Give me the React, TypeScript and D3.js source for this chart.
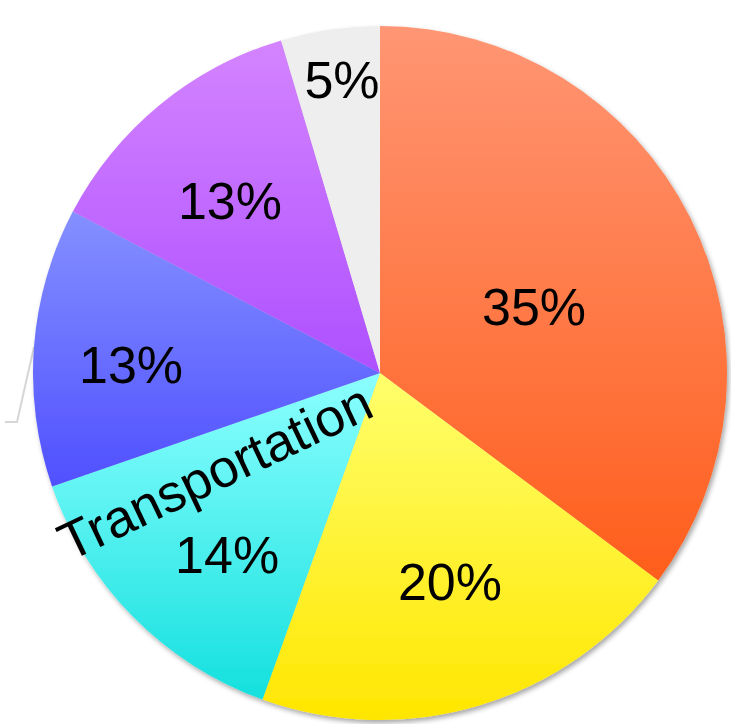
import React from "react";
import * as d3 from "d3";

const categories = ["Energy", "Food", "Transportation", "Housing", "Goods", "Other"];
const values = [35.2, 20.3, 14.2, 13.0, 12.7, 4.6];
const percentLabels = ["35%", "20%", "14%", "13%", "13%", "5%"];
const gradientTop = ["#FF9674", "#FFFF6C", "#8CFFFF", "#8490FF", "#D484FF", "#EEEEEE"];
const gradientBottom = ["#FF5E1C", "#FFE600", "#14E0DE", "#5050FF", "#AE50FF", "#EEEEEE"];

const W = 731;
const H = 724;
const cx = 380;
const cy = 373;
const R = 347;
const DEG = Math.PI / 180;

// label layout (baseline point): fraction of radius and angular offset from slice middle (deg)
const labelRadius = [0.465, 0.684, 0.726, 0.718, 0.62, 0.8];
const labelAngleOffset = [9.3, -0.4, -8.0, -6.7, -4.8, 0.4];

export default function App() {
  React.useEffect(() => {
    document.body.style.margin = "0";
  }, []);

  const pie = d3.pie<number>().value((d) => d).sort(null);
  const arcs = pie(values);
  const arcGen = d3.arc<d3.PieArcDatum<number>>().innerRadius(0).outerRadius(R);

  const labelPos = arcs.map((a, i) => {
    const mid = (a.startAngle + a.endAngle) / 2 + labelAngleOffset[i] * DEG;
    const r = R * labelRadius[i];
    return [Math.sin(mid) * r, -Math.cos(mid) * r];
  });

  // faint leftover leader line on the left
  const leaderAngle = -Math.PI / 2 + 0.075;
  const lp: [number, number][] = [
    [Math.sin(leaderAngle) * R, -Math.cos(leaderAngle) * R],
    [17 - cx, 422 - cy],
    [5 - cx, 422 - cy],
  ];
  const leader = d3.line()(lp) || "";

  // Transportation label along cyan slice
  const tA = arcs[2];
  const tMid = (tA.startAngle + tA.endAngle) / 2 + 8.3 * DEG;
  const tR = R * 0.562;

  return (
    <svg width={W} height={H} style={{ display: "block" }} fontFamily="'Liberation Sans', Arial, sans-serif">
      <defs>
        <filter id="shadow" x="-10%" y="-10%" width="120%" height="120%">
          <feDropShadow dx="2" dy="3" stdDeviation="2.5" floodColor="#000" floodOpacity="0.35" />
        </filter>
        {arcs.map((a, i) => {
          let minY = 0;
          let maxY = 0;
          for (let t = 0; t <= 40; t++) {
            const ang = a.startAngle + ((a.endAngle - a.startAngle) * t) / 40;
            const y = -Math.cos(ang) * R;
            minY = Math.min(minY, y);
            maxY = Math.max(maxY, y);
          }
          return (
            <linearGradient key={i} id={`g${i}`} gradientUnits="userSpaceOnUse" x1={0} y1={minY} x2={0} y2={maxY}>
              <stop offset="0" stopColor={gradientTop[i]} />
              <stop offset="1" stopColor={gradientBottom[i]} />
            </linearGradient>
          );
        })}
      </defs>
      <g transform={`translate(${cx},${cy})`}>
        <path d={leader} fill="none" stroke="#d6d6d6" strokeWidth={2} />
        <g filter="url(#shadow)">
          {arcs.map((a, i) => (
            <path key={categories[i]} d={arcGen(a) || ""} fill={`url(#g${i})`} />
          ))}
        </g>
        {arcs.map((a, i) => (
          <text
            key={"l" + i}
            x={labelPos[i][0]}
            y={labelPos[i][1]}
            textAnchor="middle"
            fontSize={52}
            fill="#000"
          >
            {percentLabels[i]}
          </text>
        ))}
        <text
          transform={`translate(${Math.sin(tMid) * tR},${-Math.cos(tMid) * tR}) rotate(-25.5)`}
          textAnchor="middle"
          fontSize={53}
          fill="#000"
        >
          {categories[2]}
        </text>
      </g>
    </svg>
  );
}
